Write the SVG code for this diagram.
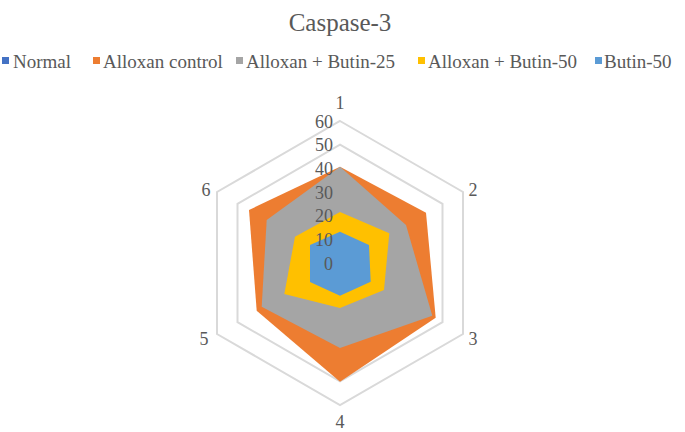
<svg xmlns="http://www.w3.org/2000/svg" width="685" height="432" viewBox="0 0 685 432">
<style>
text{font-family:"Liberation Serif","Times New Roman",serif;fill:#595959}
.ring{fill:none;stroke:#d9d9d9;stroke-width:2}
.leg{font-size:19px}
.ax{font-size:18px;text-anchor:middle}
.tk{font-size:18px;text-anchor:end;fill:#595959}
</style>
<rect width="685" height="432" fill="#fff"/>
<text x="340" y="31" font-size="25" text-anchor="middle">Caspase-3</text>
<g id="legend">
<rect x="2" y="57" width="7" height="7" fill="#4472c4"/><text class="leg" x="13" y="68">Normal</text>
<rect x="93" y="57" width="7" height="7" fill="#ed7d31"/><text class="leg" x="103" y="68">Alloxan control</text>
<rect x="236" y="57" width="7" height="7" fill="#a5a5a5"/><text class="leg" x="246" y="68">Alloxan + Butin-25</text>
<rect x="418" y="57" width="7" height="7" fill="#ffc000"/><text class="leg" x="428" y="68">Alloxan + Butin-50</text>
<rect x="595" y="57" width="7" height="7" fill="#5b9bd5"/><text class="leg" x="604" y="68">Butin-50</text>
</g>
<g id="grid">
<polygon class="ring" points="340,121 463,192 463,334 340,405 217,334 217,192"/>
<polygon class="ring" points="340,144.7 442.5,203.8 442.5,322.2 340,381.3 237.5,322.2 237.5,203.8"/>
<polygon class="ring" points="340,168.3 422,215.7 422,310.3 340,357.7 258,310.3 258,215.7"/>
</g>
<g id="series">
<polygon id="alloxan-control" fill="#ed7d31" points="340,166.7 426,212.7 435.7,317.7 340,381.7 256.7,310.7 249,210"/>
<polygon id="alloxan-butin-25" fill="#a5a5a5" points="340,166.7 406,225 432.3,315.7 340,348 261.7,306.7 266.7,220"/>
<polygon id="alloxan-butin-50" fill="#ffc000" points="340,212 389.3,233.3 384,290 340,308 284.3,294 295,236.7"/>
<polygon id="butin-50" fill="#5b9bd5" points="340,231.7 369,245 370.7,281.7 340,295.7 310,282 310,245"/>
</g>
<g id="ticks">
<text class="tk" x="333" y="128">60</text>
<text class="tk" x="333" y="151">50</text>
<text class="tk" x="333" y="175">40</text>
<text class="tk" x="333" y="199">30</text>
<text class="tk" x="333" y="222">20</text>
<text class="tk" x="333" y="246">10</text>
<text class="tk" x="333" y="270">0</text>
</g>
<g id="axis-labels">
<text class="ax" x="340" y="109">1</text>
<text class="ax" x="473" y="196">2</text>
<text class="ax" x="473" y="345">3</text>
<text class="ax" x="340" y="428">4</text>
<text class="ax" x="204" y="345">5</text>
<text class="ax" x="206" y="196">6</text>
</g>
</svg>
